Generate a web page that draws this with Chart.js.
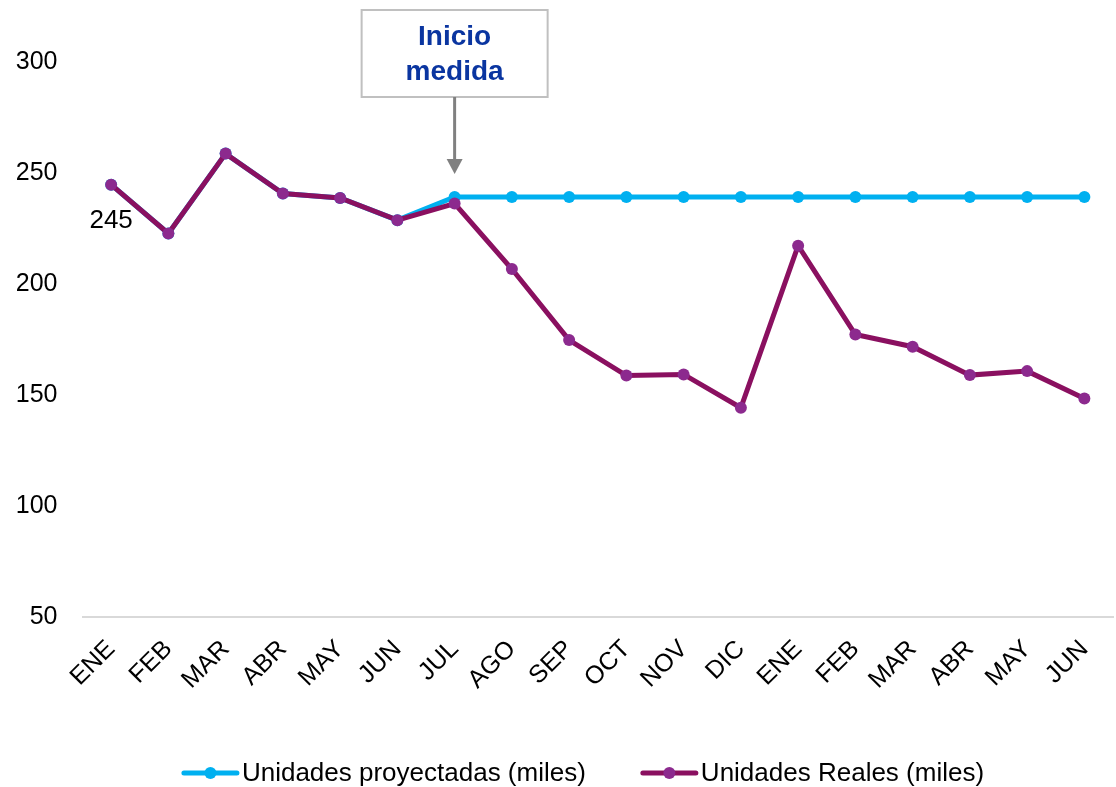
<!DOCTYPE html>
<html>
<head>
<meta charset="utf-8">
<script src="https://cdn.jsdelivr.net/npm/chart.js@4/dist/chart.umd.min.js"></script>
<style>
  html, body { margin: 0; padding: 0; background: #ffffff; }
  #wrap { width: 1116px; height: 787px; }
</style>
</head>
<body>
<div id="wrap"><canvas id="c" width="1116" height="787"></canvas></div>
<script>
// Monthly units, in thousands
const months = ['ENE','FEB','MAR','ABR','MAY','JUN','JUL','AGO','SEP','OCT','NOV','DIC','ENE','FEB','MAR','ABR','MAY','JUN'];
const projectedUnits = [245, 223, 259, 241, 239, 229, 239.5, 239.5, 239.5, 239.5, 239.5, 239.5, 239.5, 239.5, 239.5, 239.5, 239.5, 239.5];
const realUnits = [245, 223, 259, 241, 239, 229, 236.5, 207, 175, 159, 159.5, 144.5, 217.5, 177.5, 172, 159.2, 161, 148.7];
const yTicks = [50, 100, 150, 200, 250, 300];
const calloutLines = ['Inicio', 'medida'];
const calloutIndex = 6;   // month where the measure starts
const labeledIndex = 0;   // point whose value is printed

const FONT = "'Liberation Sans', Arial, sans-serif";
const CYAN = '#00B0F0';
const PLUM_LINE = '#8A1060';
const PLUM_DOT = '#8C2A8E';

// Value label under the first real point
const valueLabel = {
  id: 'valueLabel',
  afterDatasetsDraw(chart) {
    const meta = chart.getDatasetMeta(1);
    const pt = meta.data[labeledIndex];
    const ctx = chart.ctx;
    ctx.save();
    ctx.font = '26px ' + FONT;
    ctx.fillStyle = '#000000';
    ctx.textAlign = 'center';
    ctx.textBaseline = 'middle';
    ctx.fillText(String(realUnits[labeledIndex]), pt.x, pt.y + 36);
    ctx.restore();
  }
};

// "Inicio medida" callout box with arrow pointing to the start month
const callout = {
  id: 'callout',
  afterDraw(chart) {
    const ctx = chart.ctx;
    const x = chart.scales.x.getPixelForValue(calloutIndex);
    const tipY = chart.scales.y.getPixelForValue(projectedUnits[calloutIndex]) - 23;
    const boxW = 186, boxTop = 10, boxH = 87;
    ctx.save();
    ctx.fillStyle = '#ffffff';
    ctx.fillRect(x - boxW / 2, boxTop, boxW, boxH);
    ctx.strokeStyle = '#C0C0C0';
    ctx.lineWidth = 2;
    ctx.strokeRect(x - boxW / 2, boxTop, boxW, boxH);
    ctx.fillStyle = '#0A35A0';
    ctx.font = 'bold 28px ' + FONT;
    ctx.textAlign = 'center';
    ctx.textBaseline = 'middle';
    ctx.fillText(calloutLines[0], x, boxTop + 27);
    ctx.fillText(calloutLines[1], x, boxTop + 62);
    // arrow
    ctx.strokeStyle = '#808080';
    ctx.lineWidth = 3;
    ctx.beginPath();
    ctx.moveTo(x, boxTop + boxH);
    ctx.lineTo(x, tipY - 12);
    ctx.stroke();
    ctx.fillStyle = '#808080';
    ctx.beginPath();
    ctx.moveTo(x - 8, tipY - 15);
    ctx.lineTo(x + 8, tipY - 15);
    ctx.lineTo(x, tipY);
    ctx.closePath();
    ctx.fill();
    ctx.restore();
  }
};

// Bottom legend: line + marker sample followed by the series name
const lineLegend = {
  id: 'lineLegend',
  afterDraw(chart) {
    const ctx = chart.ctx;
    const sets = chart.data.datasets;
    const sampleW = 57, textGap = 3, itemGap = 55, cy = 773;
    ctx.save();
    ctx.font = '26px ' + FONT;
    const widths = sets.map(ds => sampleW + textGap + ctx.measureText(ds.label).width);
    const total = widths.reduce((a, b) => a + b, 0) + itemGap * (sets.length - 1);
    let x = 583 - total / 2;
    sets.forEach((ds, i) => {
      ctx.strokeStyle = ds.borderColor;
      ctx.lineWidth = 5;
      ctx.lineCap = 'round';
      ctx.beginPath();
      ctx.moveTo(x + 2, cy);
      ctx.lineTo(x + sampleW - 2, cy);
      ctx.stroke();
      ctx.fillStyle = ds.pointBackgroundColor;
      ctx.beginPath();
      ctx.arc(x + sampleW / 2, cy, 6, 0, Math.PI * 2);
      ctx.fill();
      ctx.fillStyle = '#000000';
      ctx.textAlign = 'left';
      ctx.textBaseline = 'middle';
      ctx.fillText(ds.label, x + sampleW + textGap, cy + 1);
      x += widths[i] + itemGap;
    });
    ctx.restore();
  }
};

new Chart(document.getElementById('c'), {
  type: 'line',
  data: {
    labels: months,
    datasets: [
      {
        label: 'Unidades proyectadas (miles)',
        data: projectedUnits,
        borderColor: CYAN,
        backgroundColor: CYAN,
        pointBackgroundColor: CYAN,
        pointBorderColor: CYAN,
        borderWidth: 5,
        pointRadius: 6,
        pointBorderWidth: 0,
        tension: 0,
        order: 2
      },
      {
        label: 'Unidades Reales (miles)',
        data: realUnits,
        borderColor: PLUM_LINE,
        backgroundColor: PLUM_LINE,
        pointBackgroundColor: PLUM_DOT,
        pointBorderColor: PLUM_DOT,
        borderWidth: 5,
        pointRadius: 6,
        pointBorderWidth: 0,
        tension: 0,
        order: 1
      }
    ]
  },
  options: {
    responsive: false,
    animation: false,
    devicePixelRatio: 1,
    clip: false,
    layout: { autoPadding: false, padding: { top: 62.6, left: 15, right: 3, bottom: 75 } },
    plugins: {
      legend: { display: false },
      tooltip: { enabled: false }
    },
    scales: {
      x: {
        offset: true,
        grid: { display: false, drawTicks: false },
        border: { display: true, color: '#D9D9D9', width: 2 },
        afterFit(scale) { scale.paddingLeft = 0; scale.paddingRight = 0; },
        ticks: {
          color: '#000000',
          font: { family: FONT, size: 25 },
          maxRotation: 45,
          minRotation: 45,
          padding: 17,
          autoSkip: false
        }
      },
      y: {
        min: 50,
        max: 300,
        afterBuildTicks(scale) { scale.ticks = yTicks.map(v => ({ value: v })); },
        afterFit(scale) { scale.width = 67.5; scale.paddingTop = 0; scale.paddingBottom = 0; },
        grid: { display: false, drawTicks: false },
        border: { display: false },
        ticks: {
          color: '#000000',
          font: { family: FONT, size: 25 },
          padding: 25
        }
      }
    }
  },
  plugins: [valueLabel, callout, lineLegend]
});
</script>
</body>
</html>
